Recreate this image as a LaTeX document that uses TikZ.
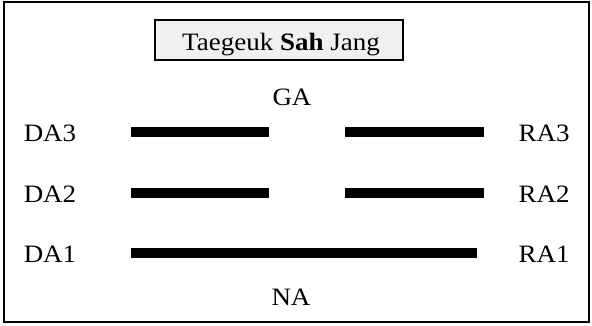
\documentclass[tikz,border=0pt]{standalone}
\usepackage{fontspec}
\setmainfont[FakeStretch=1.08]{Liberation Serif}
\begin{document}
\begin{tikzpicture}[x=1pt,y=-1pt,
  lbl/.style={inner sep=0pt,anchor=base,font=\fontsize{25}{29}\selectfont},
  bar/.style={fill=black},
  frame/.style={draw=black,line width=1.8pt}]
\useasboundingbox (0,0) rectangle (592,325);
\draw[frame] (4,2) rectangle (589,322);
\node[draw=black,line width=1.6pt,fill=black!6,minimum width=248pt,minimum height=40pt,inner sep=0pt] (titlebox) at (279,40) {};
\node[lbl] (title) at (281,50.5) {Taegeuk \textbf{Sah} Jang};
\node[lbl] (ga) at (292,105.5) {GA};
\node[lbl] (na) at (291,305.5) {NA};
\node[lbl] (da3) at (50,141.5) {DA3};
\node[lbl] (da2) at (50,202.5) {DA2};
\node[lbl] (da1) at (50,262) {DA1};
\node[lbl] (ra3) at (544,141.5) {RA3};
\node[lbl] (ra2) at (544,202.5) {RA2};
\node[lbl] (ra1) at (544,262) {RA1};
\fill[bar] (131,127) rectangle (269,137);
\fill[bar] (345,127) rectangle (484,137);
\fill[bar] (131,188) rectangle (269,198);
\fill[bar] (345,188) rectangle (484,198);
\fill[bar] (131,248) rectangle (477,258);
\end{tikzpicture}
\end{document}
